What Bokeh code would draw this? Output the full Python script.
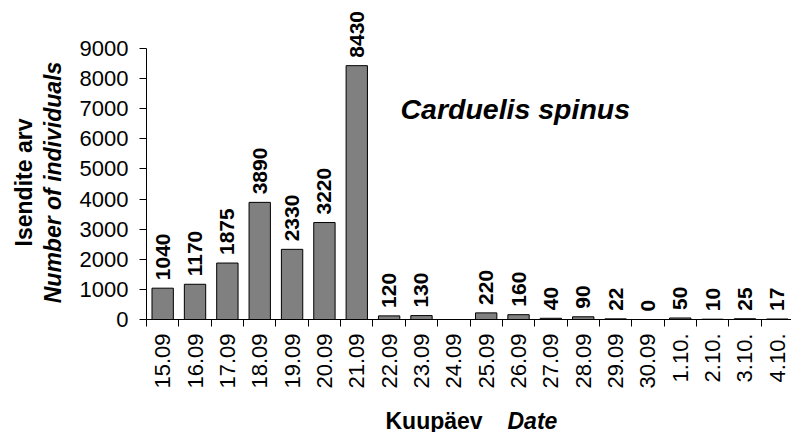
import math
from bokeh.plotting import figure
from bokeh.models import Range1d, FixedTicker, Label, LabelSet, ColumnDataSource
from bokeh.core.properties import value
from bokeh.embed import file_html
from bokeh.resources import INLINE

dates = ["15.09", "16.09", "17.09", "18.09", "19.09", "20.09", "21.09", "22.09",
         "23.09", "24.09", "25.09", "26.09", "27.09", "28.09", "29.09", "30.09",
         "1.10.", "2.10.", "3.10.", "4.10."]
counts = [1040, 1170, 1875, 3890, 2330, 3220, 8430, 120, 130, None, 220, 160,
          40, 90, 22, 0, 50, 10, 25, 17]
y_ticks = [0, 1000, 2000, 3000, 4000, 5000, 6000, 7000, 8000, 9000]
y_max = 9000
species = "Carduelis spinus"
y_title_1 = "Isendite arv"
y_title_2 = "Number of individuals"
x_title_1 = "Kuupäev"
x_title_2 = "Date"

FONT = "Liberation Sans"
W, H = 791, 432
# pixel layout of the plotting area inside the canvas
AX_LEFT, AX_TOP, AX_BOTTOM = 146, 48, 319
BIN_PX = 32.35

n = len(dates)
centers = [i + 0.5 for i in range(n)]
bounds = [float(i) for i in range(n + 1)]

xs = [c for c, v in zip(centers, counts) if v is not None]
vs = [v for v in counts if v is not None]
src = ColumnDataSource(dict(x=xs, top=vs, lab=[str(v) for v in vs]))

px_per_unit = (AX_BOTTOM - AX_TOP) / y_max
x_start = -AX_LEFT / BIN_PX
x_end = (W - AX_LEFT) / BIN_PX
y_end = y_max + AX_TOP / px_per_unit
y_start = -(H - AX_BOTTOM) / px_per_unit

p = figure(width=W, height=H, output_backend="svg", toolbar_location=None,
           x_range=Range1d(x_start, x_end), y_range=Range1d(y_start, y_end),
           min_border=0)
p.outline_line_color = None
p.xgrid.visible = False
p.ygrid.visible = False
p.background_fill_color = "white"
p.border_fill_color = "white"

p.vbar(x="x", top="top", width=0.66, source=src, fill_color="#808080",
       line_color="black", line_width=1)
p.add_layout(LabelSet(x="x", y="top", text="lab", source=src, angle=math.pi / 2,
                      text_align="left", text_baseline="middle", y_offset=8,
                      text_font=value(FONT), text_font_style="bold",
                      text_font_size="21px", text_color="black"))

# x axis
xa = p.xaxis[0]
xa.fixed_location = 0
xa.bounds = (0, n)
xa.ticker = FixedTicker(ticks=centers, minor_ticks=bounds)
xa.major_label_overrides = {c: d for c, d in zip(centers, dates)}
xa.major_label_orientation = math.pi / 2
xa.major_tick_line_color = None
xa.major_tick_out = 7
xa.major_tick_in = 0
xa.minor_tick_line_color = "black"
xa.minor_tick_out = 7
xa.minor_tick_in = 0
xa.major_label_standoff = 7
xa.major_label_text_font = FONT
xa.major_label_text_font_size = "22px"
xa.major_label_text_color = "black"
xa.axis_line_color = "black"

ya = p.yaxis[0]
ya.fixed_location = 0
ya.bounds = (0, y_max)
ya.ticker = FixedTicker(ticks=y_ticks)
ya.major_tick_out = 7
ya.major_tick_in = 0
ya.minor_tick_line_color = None
ya.major_label_standoff = 11
ya.major_label_text_font = FONT
ya.major_label_text_font_size = "22px"
ya.major_label_text_color = "black"
ya.axis_line_color = "black"

p.add_layout(Label(x=7.85, y=7000, text=species, text_font=FONT,
                   text_font_style="bold italic", text_font_size="28.5px",
                   text_baseline="middle", text_align="left", text_color="black"))

p.add_layout(Label(x=23, y=H - 182, x_units="screen", y_units="screen",
                   text=y_title_1, angle=math.pi / 2, text_align="center",
                   text_baseline="alphabetic", text_font=FONT, text_color="black",
                   text_font_style="bold", text_font_size="23px"))
p.add_layout(Label(x=52, y=H - 182, x_units="screen", y_units="screen",
                   text=y_title_2, angle=math.pi / 2, text_align="center",
                   text_baseline="alphabetic", text_font=FONT, text_color="black",
                   text_font_style="bold italic", text_font_size="23px"))
p.add_layout(Label(x=385, y=H - 420, x_units="screen", y_units="screen",
                   text=x_title_1, text_align="left", text_color="black",
                   text_baseline="alphabetic", text_font=FONT,
                   text_font_style="bold", text_font_size="23px"))
p.add_layout(Label(x=507, y=H - 420, x_units="screen", y_units="screen",
                   text=x_title_2, text_align="left", text_color="black",
                   text_baseline="alphabetic", text_font=FONT,
                   text_font_style="bold italic", text_font_size="23px"))

open("out.html", "w").write(file_html(p, INLINE))
